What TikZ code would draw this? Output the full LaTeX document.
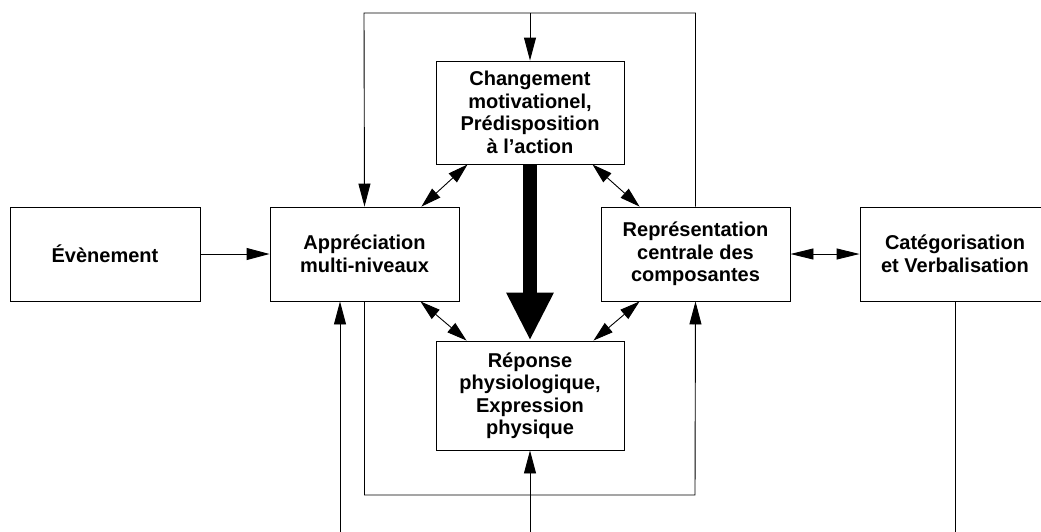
\documentclass[tikz,border=0pt]{standalone}
\usepackage{fontspec}
\setmainfont{Liberation Sans}
\usetikzlibrary{arrows.meta,calc}
\begin{document}
\begin{tikzpicture}[x=1pt,y=-1pt,
  box/.style={draw,line width=0.9pt,align=center,inner sep=0pt,
    font=\fontsize{20}{22.5}\selectfont\bfseries},
  arr/.style={line width=0.9pt,-{Triangle[length=23pt,width=12pt]}},
  darr/.style={line width=0.9pt,{Triangle[length=23pt,width=11pt]}-{Triangle[length=23pt,width=11pt]}},
  diag/.style={line width=0.9pt,{Triangle[length=20pt,width=12pt]}-{Triangle[length=20pt,width=12pt]}},
  plain/.style={line width=0.9pt}]
\clip (0,0) rectangle (1041,531);
\node[box,minimum width=190pt,minimum height=94pt] (evt) at (105,254) {Évènement};
\node[box,minimum width=189pt,minimum height=94pt] (app) at (364.5,254) {Appréciation\\multi-niveaux};
\node[box,minimum width=188pt,minimum height=103pt] (chg) at (530,112.5) {Changement\\motivationel,\\Prédisposition\\à l’action};
\node[box,minimum width=189pt,minimum height=94pt] (repc) at (695.5,254) {Représentation\\centrale des\\composantes};
\node[box,minimum width=190pt,minimum height=94pt] (cat) at (955,254) {Catégorisation\\et Verbalisation};
\node[box,minimum width=188pt,minimum height=109pt] (rep) at (530,395.5) {Réponse\\physiologique,\\Expression\\physique};
% coordinates
\coordinate (tl) at (364,13);
\coordinate (tm) at (530,13);
\coordinate (br) at (695,495);
\coordinate (b1) at (340,540);
\coordinate (b2) at (530,540);
\coordinate (b3) at (955,540);
% top loop
\draw[arr] (repc.north) |- (tl) -- (app.north);
\draw[arr] (tm) -- (chg.north);
% bottom loop
\draw[arr] (app.south) |- (br) -- (repc.south);
% inputs from below
\draw[arr] (b1) -- (b1 |- app.south);
\draw[arr] (b2) -- (rep.south);
\draw[plain] (cat.south) -- (b3);
% horizontal
\draw[arr] (evt.east) -- (app.west);
\draw[darr] (repc.east) -- (cat.west);
% diagonals
\draw[diag] ($(chg.south west)+(32,0)$) -- ($(app.north east)+(-38,0)$);
\draw[diag] ($(chg.south east)+(-32,0)$) -- ($(repc.north west)+(39,0)$);
\draw[diag] ($(app.south east)+(-39,0)$) -- ($(rep.north west)+(31,0)$);
\draw[diag] ($(repc.south west)+(39,0)$) -- ($(rep.north east)+(-31,0)$);
% thick arrow
\draw[line width=14pt,-{Triangle[length=48pt,width=44pt]}] (chg.south) -- (rep.north);
\end{tikzpicture}
\end{document}
